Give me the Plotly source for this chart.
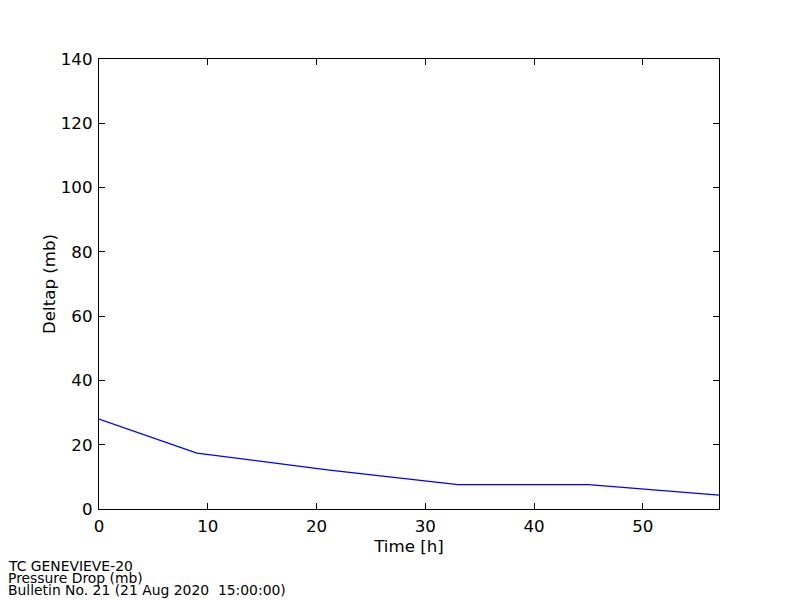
import plotly.graph_objects as go

# 予報時刻 (h) と気圧低下量 (mb)
time_h = [0, 9, 21, 33, 45, 57]
deltap_mb = [28.0, 17.4, 12.2, 7.6, 7.6, 4.3]

x_ticks = [0, 10, 20, 30, 40, 50]
y_ticks = [0, 20, 40, 60, 80, 100, 120, 140]

footer_lines = [
    "TC GENEVIEVE-20",
    "Pressure Drop (mb)",
    "Bulletin No. 21 (21 Aug 2020  15:00:00)",
]

# ページ本体の余白 (8px) を差し引いた配置
PLOT_W, PLOT_H = 620, 450
M_L, M_T = 91, 51
BASE_SIZE = 16.67
FOOT_SIZE = 13.9

fig = go.Figure(
    go.Scatter(
        x=time_h,
        y=deltap_mb,
        mode="lines",
        line=dict(color="#0000ff", width=1.3),
        showlegend=False,
    )
)

axis_common = dict(
    showgrid=False,
    zeroline=False,
    showline=True,
    linecolor="black",
    linewidth=1.2,
    mirror="allticks",
    ticks="inside",
    ticklen=6,
    tickwidth=1,
    tickcolor="black",
    tickfont=dict(size=BASE_SIZE, color="black"),
    ticklabelstandoff=2,
)

# フッター (1 行ずつ配置して行間を詰める)
footer_centers = [566, 578, 590]
annotations = []
for line, cy in zip(footer_lines, footer_centers):
    annotations.append(
        dict(
            text=line,
            xref="paper",
            yref="paper",
            x=-(M_L + 1) / PLOT_W,
            y=-(cy - 509) / PLOT_H,
            xanchor="left",
            yanchor="middle",
            align="left",
            showarrow=False,
            borderpad=0,
            font=dict(size=FOOT_SIZE, color="black"),
        )
    )

fig.update_layout(
    width=800,
    height=600,
    autosize=False,
    paper_bgcolor="white",
    plot_bgcolor="white",
    font=dict(family="DejaVu Sans", color="black"),
    margin=dict(l=M_L, r=800 - M_L - PLOT_W, t=M_T, b=600 - M_T - PLOT_H),
    xaxis=dict(
        range=[0, 57],
        tickvals=x_ticks,
        title=dict(text="Time [h]", font=dict(size=BASE_SIZE), standoff=5),
        **axis_common,
    ),
    yaxis=dict(
        range=[0, 140],
        tickvals=y_ticks,
        title=dict(text="Deltap (mb)", font=dict(size=BASE_SIZE), standoff=0),
        **axis_common,
    ),
    annotations=annotations,
)

fig.write_html("out.html")
